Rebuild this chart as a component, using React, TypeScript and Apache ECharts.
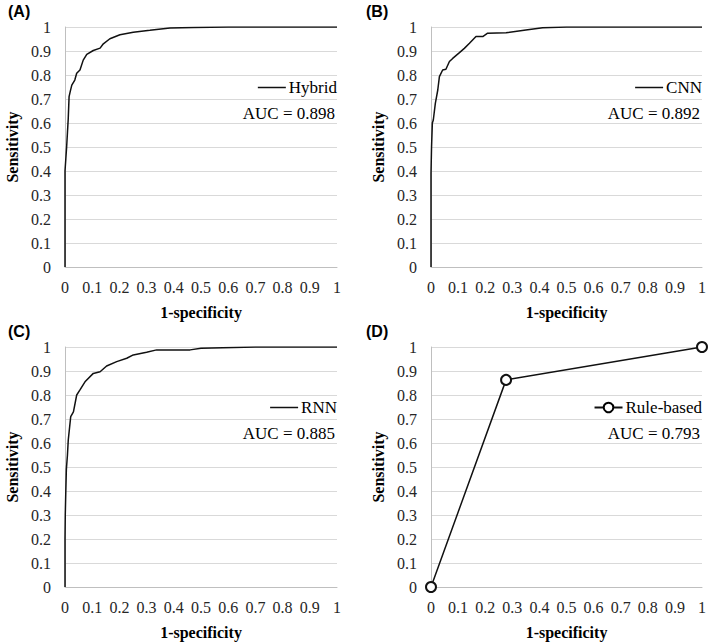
import React, { useEffect, useRef } from "react";
import * as echarts from "echarts";

// ---- Data ----
const panelLabels = ["(A)", "(B)", "(C)", "(D)"];
const seriesNames = ["Hybrid", "CNN", "RNN", "Rule-based"];
const aucTexts = ["AUC = 0.898", "AUC = 0.892", "AUC = 0.885", "AUC = 0.793"];
const axisTicks = [0, 0.1, 0.2, 0.3, 0.4, 0.5, 0.6, 0.7, 0.8, 0.9, 1];

const hybridFpr = [0, 0, 0, 0.003, 0.006, 0.009, 0.012, 0.015, 0.02, 0.025, 0.036, 0.043, 0.055, 0.067, 0.08, 0.104, 0.129, 0.141, 0.165, 0.202, 0.251, 0.312, 0.386, 0.472, 0.6, 1];
const hybridTpr = [0, 0.1, 0.4, 0.45, 0.5, 0.56, 0.62, 0.71, 0.735, 0.758, 0.779, 0.807, 0.821, 0.862, 0.886, 0.902, 0.912, 0.93, 0.951, 0.968, 0.978, 0.986, 0.996, 0.998, 1, 1];

const cnnFpr = [0, 0, 0.002, 0.005, 0.0085, 0.016, 0.025, 0.031, 0.043, 0.055, 0.068, 0.08, 0.105, 0.123, 0.142, 0.166, 0.191, 0.209, 0.277, 0.35, 0.412, 0.5, 1];
const cnnTpr = [0, 0.39, 0.5, 0.6, 0.6125, 0.682, 0.7375, 0.793, 0.821, 0.824, 0.856, 0.869, 0.893, 0.911, 0.932, 0.96, 0.96, 0.974, 0.976, 0.9875, 0.997, 1, 1];

const rnnFpr = [0, 0, 0.001, 0.003, 0.005, 0.009, 0.012, 0.021, 0.031, 0.043, 0.055, 0.0735, 0.104, 0.129, 0.153, 0.19, 0.227, 0.251, 0.3, 0.337, 0.46, 0.5, 0.62, 0.7, 1];
const rnnTpr = [0, 0.2, 0.3, 0.4, 0.49, 0.55, 0.6125, 0.71, 0.73, 0.8, 0.821, 0.855, 0.89, 0.897, 0.921, 0.939, 0.953, 0.967, 0.978, 0.988, 0.988, 0.995, 0.998, 1, 1];

const ruleFpr = [0, 0.277, 1];
const ruleTpr = [0, 0.863, 1];

const fprs = [hybridFpr, cnnFpr, rnnFpr, ruleFpr];
const tprs = [hybridTpr, cnnTpr, rnnTpr, ruleTpr];

// ---- Layout ----
const W = 709;
const H = 642;
const grids = [
  { left: 65, right: 337, top: 27, bottom: 267 },
  { left: 431, right: 702, top: 27, bottom: 267 },
  { left: 65, right: 337, top: 347, bottom: 587 },
  { left: 431, right: 702, top: 347, bottom: 587 },
];
const labelPos = [
  { x: 8, y: 11 },
  { x: 366, y: 11 },
  { x: 8, y: 331 },
  { x: 366, y: 331 },
];

const SERIF = "Liberation Serif";
const SANS = "Liberation Sans";

export default function App() {
  const ref = useRef<HTMLDivElement>(null);
  useEffect(() => {
    document.body.style.margin = "0";
    const chart = echarts.init(ref.current!, null, { renderer: "svg" });
    const fmt = (v: number) => "{t|" + String(Math.round(v * 10) / 10) + "}";
    const tickText = { fontFamily: SERIF, fontSize: 16, color: "#262626" };
    const rich = { t: { ...tickText, lineHeight: 18 } };

    const option: any = {
      animation: false,
      backgroundColor: "#fff",
      textStyle: { fontFamily: SERIF },
      grid: grids.map((g) => ({
        left: g.left,
        top: g.top,
        width: g.right - g.left,
        height: g.bottom - g.top,
        containLabel: false,
      })),
      xAxis: grids.map((_, i) => ({
        type: "value",
        gridIndex: i,
        min: axisTicks[0],
        max: axisTicks[axisTicks.length - 1],
        interval: 0.1,
        name: "1-specificity",
        nameLocation: "middle",
        nameGap: 37,
        nameTextStyle: { fontFamily: SERIF, fontSize: 16, fontWeight: "bold", color: "#000" },
        axisLine: { show: true, lineStyle: { color: "#bfbfbf", width: 1 } },
        axisTick: { show: false },
        splitLine: { show: false },
        axisLabel: { ...tickText, margin: 11, formatter: fmt, rich },
      })),
      yAxis: grids.map((_, i) => ({
        type: "value",
        gridIndex: i,
        min: axisTicks[0],
        max: axisTicks[axisTicks.length - 1],
        interval: 0.1,
        name: "Sensitivity",
        nameLocation: "middle",
        nameRotate: 90,
        nameGap: 45,
        nameTextStyle: { fontFamily: SERIF, fontSize: 16, fontWeight: "bold", color: "#000" },
        axisLine: { show: true, lineStyle: { color: "#bfbfbf", width: 1 } },
        axisTick: { show: false },
        splitLine: { show: true, lineStyle: { color: "#d9d9d9", width: 1 } },
        axisLabel: { ...tickText, margin: 14, formatter: fmt, rich },
      })),
      legend: grids.map((g, i) => {
        const isRule = i === 3;
        return {
          data: [isRule ? { name: seriesNames[i] } : { name: seriesNames[i], icon: "rect" }],
          right: W - g.right,
          top: g.top + 52,
          itemWidth: 28,
          itemHeight: isRule ? 12 : 1.5,
          itemGap: 0,
          padding: 0,
          selectedMode: false,
          itemStyle: isRule ? undefined : { borderWidth: 0 },
          textStyle: { fontFamily: SERIF, fontSize: 17, color: "#000", padding: [0, 0, 0, -2] },
        };
      }),
      series: grids.map((_, i) => ({
        type: "line",
        name: seriesNames[i],
        xAxisIndex: i,
        yAxisIndex: i,
        data: fprs[i].map((x, k) => [x, tprs[i][k]]),
        symbol: i === 3 ? "emptyCircle" : "none",
        symbolSize: 10,
        showSymbol: i === 3,
        lineStyle: { color: "#111", width: 1.5 },
        itemStyle: i === 3 ? { color: "#111", borderColor: "#111", borderWidth: 1.5 } : { color: "#111" },
        emphasis: { disabled: true },
      })),
      graphic: [
        ...grids.map((g, i) => ({
          type: "text",
          x: g.right - 2,
          y: g.top + 86,
          style: {
            text: aucTexts[i],
            fontFamily: SERIF,
            fontSize: 17,
            fill: "#000",
            textAlign: "right",
            textVerticalAlign: "middle",
          },
        })),
        ...labelPos.map((p, i) => ({
          type: "text",
          x: p.x,
          y: p.y,
          style: {
            text: panelLabels[i],
            fontFamily: SANS,
            fontSize: 16,
            fontWeight: "bold",
            fill: "#000",
            textAlign: "left",
            textVerticalAlign: "middle",
          },
        })),
      ],
    };
    chart.setOption(option);
    return () => chart.dispose();
  }, []);
  return <div ref={ref} style={{ width: W, height: H }} />;
}
